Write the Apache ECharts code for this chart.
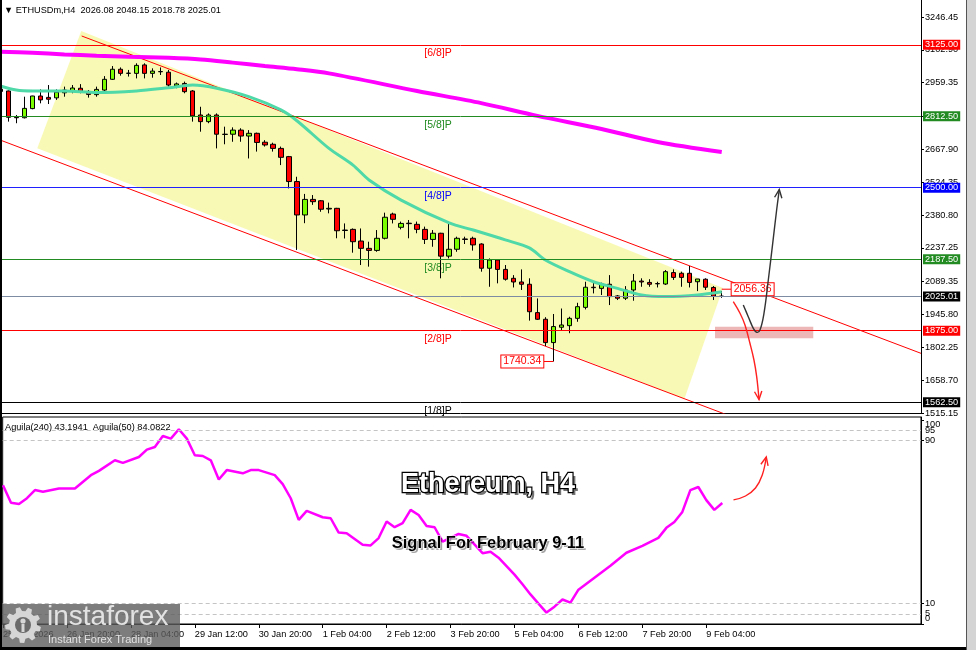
<!DOCTYPE html>
<html>
<head>
<meta charset="utf-8">
<script src="https://cdn.jsdelivr.net/npm/echarts@6/dist/echarts.min.js"></script>
<style>
  html, body { margin: 0; padding: 0; background: #ffffff; }
  #chart { width: 976px; height: 650px; }
</style>
</head>
<body>
<div id="chart"></div>
<script>
const FONT = '"Liberation Sans", Arial, sans-serif';

// ETHUSDm H4 bars; bar 0 = 25 Jan 2026 12:00, bar 90 = 9 Feb 12:00
const candleOpen = [2931,2923,2808,2806,2846,2901,2895,2893,2915,2924,
  2935,2921,2907,2927,2974,3018,3000,3000,3037,3000,
  3008,3005,2945,2956,2923,2818,2789,2818,2734,2734,
  2752,2726,2738,2699,2690,2672,2636,2527,2381,2449,
  2443,2407,2410,2313,2318,2267,2235,2226,2279,2385,
  2327,2345,2340,2318,2274,2301,2201,2231,2276,2279,
  2254,2148,2184,2143,2104,2088,2078,1954,1925,1823,
  1890,1897,1929,1977,2065,2060,2078,2027,2017,2053,
  2092,2086,2081,2079,2129,2126,2126,2089,2100,2064,
  2026.08];
const candleHigh = [2936,2925,2818,2898,2902,2930,2949,2930,2942,2949,
  2953,2927,2942,2988,3032,3026,3015,3044,3044,3022,
  3026,3015,2960,2964,2927,2854,2825,2825,2767,2764,
  2760,2752,2741,2708,2697,2680,2639,2548,2473,2468,
  2446,2435,2412,2344,2322,2322,2264,2315,2391,2391,
  2352,2359,2352,2330,2315,2303,2344,2286,2286,2286,
  2257,2191,2187,2162,2118,2143,2104,2016,1934,1948,
  1972,1936,1997,2089,2089,2085,2118,2031,2070,2123,
  2104,2100,2089,2140,2143,2133,2158,2101,2104,2070,
  2048.15];
const candleLow = [2916,2789,2782,2803,2843,2869,2866,2884,2898,2913,
  2913,2894,2898,2913,2971,2990,2986,2978,2978,2981,
  2993,2942,2935,2913,2789,2745,2782,2672,2690,2701,
  2701,2628,2658,2680,2658,2599,2497,2228,2345,2425,
  2395,2388,2279,2278,2216,2162,2155,2220,2274,2344,
  2318,2279,2301,2254,2242,2104,2191,2220,2254,2225,
  2133,2067,2082,2094,2064,2053,1919,1922,1808,1740.34,
  1878,1864,1914,1968,2038,2031,1987,2009,2009,2006,
  2067,2067,2064,2075,2097,2067,2064,2048,2053,2009,
  2018.78];
const candleClose = [2921,2808,2806,2847,2901,2884,2887,2918,2927,2936,
  2918,2908,2930,2974,3018,3000,3001,3035,3000,3010,
  3007,2949,2954,2920,2814,2789,2818,2734,2733,2752,
  2726,2738,2698,2687,2672,2633,2527,2381,2449,2439,
  2406,2410,2312,2315,2264,2235,2226,2279,2371,2362,
  2344,2343,2318,2274,2301,2201,2231,2279,2274,2250,
  2148,2184,2143,2100,2088,2078,1958,1925,1823,1893,
  1900,1929,1980,2065,2063,2078,2024,2017,2053,2092,
  2088,2078,2080,2133,2108,2108,2086,2101,2065,2026,
  2025.01];

// moving averages (bar, price)
const maSlowBars   = [0,4,8,12,16,21,25,29,33,37,41,52,60,67,75,82,90];
const maSlowValues = [3095,3090,3083,3077,3073,3068,3061,3047,3032,3018,3000,2923,2870,2814,2757,2700,2656];
const maFastBars   = [0,2,4,8,12,17,21,24,27,31,35,37,41,44,46,50,56,59,63,66,68,71,74,77,80,83,87,90];
const maFastValues = [2945,2927,2923,2923,2916,2923,2937,2949,2935,2898,2840,2793,2672,2599,2534,2446,2346,2315,2272,2237,2184,2133,2089,2060,2031,2024,2031,2045];

// Aguila oscillator (bar, value)
const aguilaBars   = [0,1,2,3,4,5,7,9,11,12,14,15,17,18,19,20,21,22,23,24,25,26,27,28,30,31,32,34,35,36,37,38,40,41,42,43,45,46,47,48,49,50,51,52,53,54,55,57,58,60,61,62,64,65,66,67,68,69,70,71,72,74,76,78,80,82,83,84,85,86,87,88,89,90];
const aguilaValues = [68.0,59.4,58.8,61.6,65.6,64.8,66.4,66.4,72.9,75.0,80.2,78.9,81.8,85.4,86.7,92.1,90.8,95.4,90.8,82.7,82.3,80.2,70.8,75.4,73.8,75.4,75.4,72.9,68.5,61.6,51.0,55.4,52.3,51.8,44.8,44.5,38.8,38.5,42.1,50.2,47.4,49.4,55.9,53.4,48.0,47.4,40.4,44.1,43.2,34.7,35.4,32.5,24.2,19.5,14.5,10.0,5.6,8.5,12.0,10.5,16.8,22.7,28.5,34.9,38.3,42.2,47.1,50.0,54.9,65.6,67.1,60.7,55.9,59.3];

// time axis ticks
const timeTickBars   = [0,8,16,24,32,40,48,56,64,72,80,88];
const timeTickLabels = ['25 Jan 2026','26 Jan 20:00','28 Jan 04:00','29 Jan 12:00','30 Jan 20:00',
  '1 Feb 04:00','2 Feb 12:00','3 Feb 20:00','5 Feb 04:00','6 Feb 12:00','7 Feb 20:00','9 Feb 04:00'];

// price axis ticks
const priceTicks = [1515.15,1658.70,1802.25,1945.80,2089.35,2237.25,2380.80,2524.35,2667.90,2813.80,2959.35,3102.90,3246.45];
// oscillator scale: outer marks and the inner pair sit on two overlaid axes
const aguilaTicksOuter = [0,10,90,100];
const aguilaTicksInner = [5,95];
const aguilaGuides = [95,90,10,5];

// horizontal levels
const levelPrices    = [3125.00, 2812.50, 2500.00, 2187.50, 2025.01, 1875.00, 1562.50];
const levelLineColor = ['#ff0000','#228b22','#2020ff','#228b22','#7d8ca3','#ff0000','#000000'];
const levelBoxColor  = ['#ff0000','#228b22','#0000ff','#228b22','#000000','#ff0000','#000000'];

// Murrey octave captions
const octavePrices = [3125.00, 2812.50, 2500.00, 2187.50, 1875.00, 1562.50];
const octaveNames  = ['[6/8]P','[5/8]P','[4/8]P','[3/8]P','[2/8]P','[1/8]P'];
const octaveColors = ['#ff0000','#228b22','#0000ff','#228b22','#ff0000','#000000'];
const octaveBar = 52.9;

// regression channel: shaded area and the two rails
const channelBars   = [10.1, 4.61, 85.35, 90.16];
const channelPrices = [3185.2, 2672.4, 1577.2, 2061.6];
const upperRail = [[10.15, 3163.4], [114.86, 1776.0]];
const lowerRail = [[-0.04, 2708.8], [114.86, 1186.4]];

// price tags: [bar, price, bar where the tag box sits]
const tagBars   = [90, 69];
const tagPrices = [2056.36, 1740.34];
const tagBoxAt  = [91.24, 67.74];

// support zone
const zoneBars   = [89.16, 101.42];
const zonePrices = [1892.4, 1841.7];

// scenario arrows (bar, price) / (bar, oscillator)
const arrowUpPath   = [[92.69,1987.3],[93.31,1936.2],[93.94,1885.4],[94.36,1868.0],[94.77,1878.0],[95.27,1951.0],[95.81,2096.6],[96.36,2257.0],[96.85,2402.7],[97.18,2492.0]];
const arrowDownPath = [[91.44,2001.7],[92.28,1951.0],[92.90,1899.9],[93.52,1819.9],[94.02,1746.9],[94.36,1673.9],[94.65,1574.0]];
const aguilaArrowPath = [[91.4,60.8],[92.9,62.7],[94.15,66.6],[95.0,73.0],[95.5,81.8]];

const X_MIN = -0.04, X_MAX = 114.86;
const OSC_MIN = 0, OSC_MAX = 101.4;

const candleData = candleOpen.map((o, i) => [i, o, candleClose[i], candleLow[i], candleHigh[i]]);
const zip = (xs, ys) => xs.map((x, i) => [x, ys[i]]);

function arrowSeries(path, color, gi) {
  return {
    type: 'custom', xAxisIndex: gi, yAxisIndex: gi, z: 6, silent: true,
    data: [path[0]],
    renderItem: function (params, api) {
      const pts = path.map(p => api.coord(p));
      const a = pts[pts.length - 2], b = pts[pts.length - 1];
      const ang = Math.atan2(b[1] - a[1], b[0] - a[0]);
      const L = 9, spread = 0.42;
      const h1 = [b[0] - L * Math.cos(ang - spread), b[1] - L * Math.sin(ang - spread)];
      const h2 = [b[0] - L * Math.cos(ang + spread), b[1] - L * Math.sin(ang + spread)];
      return {
        type: 'group',
        children: [
          { type: 'polyline', shape: { points: pts, smooth: 0.4 }, style: { stroke: color, lineWidth: 1.4, fill: null } },
          { type: 'polyline', shape: { points: [h1, b, h2] }, style: { stroke: color, lineWidth: 1.4, fill: null } }
        ]
      };
    }
  };
}

function gearPoints(cx, cy, rOut, rIn, teeth) {
  const pts = [];
  const step = Math.PI * 2 / teeth;
  for (let k = 0; k < teeth; k++) {
    const a0 = k * step;
    pts.push([cx + rIn * Math.cos(a0), cy + rIn * Math.sin(a0)]);
    pts.push([cx + rOut * Math.cos(a0 + step * 0.15), cy + rOut * Math.sin(a0 + step * 0.15)]);
    pts.push([cx + rOut * Math.cos(a0 + step * 0.5), cy + rOut * Math.sin(a0 + step * 0.5)]);
    pts.push([cx + rIn * Math.cos(a0 + step * 0.65), cy + rIn * Math.sin(a0 + step * 0.65)]);
  }
  return pts;
}

const axisText = { fontFamily: FONT, fontSize: 9.2, color: '#000' };

const option = {
  animation: false,
  backgroundColor: '#ffffff',
  textStyle: { fontFamily: FONT },
  grid: [
    { left: 0, top: 0, width: 921, height: 413, show: false },
    { left: 0, top: 417, width: 921, height: 207, show: true, borderColor: '#000', borderWidth: 1, backgroundColor: 'transparent' }
  ],
  xAxis: [
    { type: 'value', gridIndex: 0, min: X_MIN, max: X_MAX, position: 'bottom',
      axisLine: { show: true, onZero: false, lineStyle: { color: '#000', width: 1 } },
      axisTick: { show: false }, axisLabel: { show: false }, splitLine: { show: false } },
    { type: 'value', gridIndex: 1, min: X_MIN, max: X_MAX, position: 'bottom',
      axisLine: { show: true, onZero: false, lineStyle: { color: '#000', width: 1 } },
      axisTick: { show: true, customValues: timeTickBars, length: 4, lineStyle: { color: '#000' } },
      axisLabel: Object.assign({ show: true, customValues: timeTickBars, align: 'left', margin: 6,
        hideOverlap: false, showMinLabel: true, showMaxLabel: true,
        formatter: v => timeTickLabels[timeTickBars.indexOf(Math.round(v))] || '' }, axisText),
      splitLine: { show: false } }
  ],
  yAxis: [
    { type: 'value', gridIndex: 0, position: 'right', min: 1515.15, max: 3320.77,
      axisLine: { show: true, onZero: false, lineStyle: { color: '#000', width: 1 } },
      axisTick: { show: true, customValues: priceTicks, length: 3, lineStyle: { color: '#000' } },
      axisLabel: Object.assign({ show: true, customValues: priceTicks, margin: 4,
        hideOverlap: false, showMinLabel: true, showMaxLabel: true,
        formatter: v => v.toFixed(2) }, axisText),
      splitLine: { show: false } },
    { type: 'value', gridIndex: 1, position: 'right', min: OSC_MIN, max: OSC_MAX,
      axisLine: { show: true, onZero: false, lineStyle: { color: '#000', width: 1 } },
      axisTick: { show: true, customValues: aguilaTicksOuter, length: 3, lineStyle: { color: '#000' } },
      axisLabel: Object.assign({ show: true, customValues: aguilaTicksOuter, margin: 4,
        hideOverlap: false, showMinLabel: true, showMaxLabel: true,
        formatter: v => v === 100 ? '{t|100}' : (v === 0 ? '{b|0}' : String(v)),
        rich: {
          t: Object.assign({ padding: [10, 0, 0, 0] }, axisText),
          b: Object.assign({ padding: [0, 0, 12, 0] }, axisText)
        } }, axisText),
      splitLine: { show: false } },
    { type: 'value', gridIndex: 1, position: 'right', offset: 0, min: OSC_MIN, max: OSC_MAX,
      axisLine: { show: false },
      axisTick: { show: true, customValues: aguilaTicksInner, length: 3, lineStyle: { color: '#000' } },
      axisLabel: Object.assign({ show: true, customValues: aguilaTicksInner, margin: 4,
        hideOverlap: false, showMinLabel: true, showMaxLabel: true,
        formatter: v => String(v) }, axisText),
      splitLine: { show: false } }
  ],
  series: [
    // shaded channel body
    {
      type: 'custom', xAxisIndex: 0, yAxisIndex: 0, z: 1, silent: true,
      data: [[channelBars[0], channelPrices[0]]],
      renderItem: function (params, api) {
        const pts = channelBars.map((b, i) => api.coord([b, channelPrices[i]]));
        return { type: 'polygon', shape: { points: pts }, style: { fill: '#f9f9b6' } };
      }
    },
    // upper rail, carrying the horizontal levels
    {
      type: 'line', xAxisIndex: 0, yAxisIndex: 0, z: 2, silent: true,
      data: upperRail, symbol: 'none', lineStyle: { color: '#ff0000', width: 1 },
      markLine: {
        silent: true, symbol: ['none', 'none'], animation: false,
        data: levelPrices.map((p, i) => ({
          yAxis: p,
          lineStyle: { color: levelLineColor[i], width: 1, type: 'solid' },
          label: { show: true, position: 'end', distance: 2, formatter: p.toFixed(2),
            color: '#fff', backgroundColor: levelBoxColor[i], padding: [1, 2, 0, 2],
            fontFamily: FONT, fontSize: 9.2 }
        }))
      }
    },
    {
      type: 'line', xAxisIndex: 0, yAxisIndex: 0, z: 2, silent: true,
      data: lowerRail, symbol: 'none', lineStyle: { color: '#ff0000', width: 1 }
    },
    // support zone
    {
      type: 'custom', xAxisIndex: 0, yAxisIndex: 0, z: 2, silent: true,
      data: [[zoneBars[0], zonePrices[0]]],
      renderItem: function (params, api) {
        const a = api.coord([zoneBars[0], zonePrices[0]]);
        const b = api.coord([zoneBars[1], zonePrices[1]]);
        return { type: 'rect', shape: { x: a[0], y: a[1], width: b[0] - a[0], height: b[1] - a[1] },
          style: { fill: 'rgba(214,96,96,0.45)' } };
      }
    },
    // octave captions
    {
      type: 'custom', xAxisIndex: 0, yAxisIndex: 0, z: 3, silent: true,
      data: octavePrices.map(p => [octaveBar, p]),
      renderItem: function (params, api) {
        const c = api.coord([api.value(0), api.value(1)]);
        return { type: 'text', style: { text: octaveNames[params.dataIndex], x: c[0], y: c[1] + 3,
          fill: octaveColors[params.dataIndex], font: '10.5px ' + FONT, align: 'left', verticalAlign: 'top' } };
      }
    },
    // candles
    {
      type: 'candlestick', xAxisIndex: 0, yAxisIndex: 0, z: 3,
      dimensions: ['bar', 'open', 'close', 'low', 'high'],
      encode: { x: 'bar', y: ['open', 'close', 'low', 'high'] },
      data: candleData, barWidth: 5,
      itemStyle: { color: '#7cfc00', color0: '#ff0000', borderColor: '#000', borderColor0: '#000', borderWidth: 1 }
    },
    // slow MA
    {
      type: 'line', xAxisIndex: 0, yAxisIndex: 0, z: 4, silent: true,
      data: zip(maSlowBars, maSlowValues), symbol: 'none', smooth: 0.3,
      lineStyle: { color: '#ff00ff', width: 4 }
    },
    // fast MA
    {
      type: 'line', xAxisIndex: 0, yAxisIndex: 0, z: 4, silent: true,
      data: zip(maFastBars, maFastValues), symbol: 'none', smooth: 0.3,
      lineStyle: { color: '#4fd8a8', width: 3 }
    },
    // price tags
    {
      type: 'custom', xAxisIndex: 0, yAxisIndex: 0, z: 5, silent: true,
      data: tagBars.map((b, i) => [b, tagPrices[i]]),
      renderItem: function (params, api) {
        const i = params.dataIndex;
        const p0 = api.coord([tagBars[i], tagPrices[i]]);
        const p1 = api.coord([tagBoxAt[i], tagPrices[i]]);
        const right = tagBoxAt[i] > tagBars[i];
        return {
          type: 'group',
          children: [
            { type: 'line', shape: { x1: p0[0], y1: p0[1], x2: p1[0], y2: p1[1] }, style: { stroke: '#ff0000', lineWidth: 1 } },
            { type: 'text', style: { text: tagPrices[i].toFixed(2), x: p1[0], y: p1[1],
              align: right ? 'left' : 'right', verticalAlign: 'middle', fill: '#ff0000',
              font: '10.5px ' + FONT, backgroundColor: '#ffffff', borderColor: '#ff0000', borderWidth: 1,
              padding: [1, 2, 0, 2] } }
          ]
        };
      }
    },
    arrowSeries(arrowUpPath, '#333333', 0),
    arrowSeries(arrowDownPath, '#ff2020', 0),
    // oscillator
    {
      type: 'line', xAxisIndex: 1, yAxisIndex: 1, z: 3, silent: true,
      data: zip(aguilaBars, aguilaValues), symbol: 'none',
      lineStyle: { color: '#ff00ff', width: 2.5 },
      markLine: {
        silent: true, symbol: ['none', 'none'], animation: false, label: { show: false },
        lineStyle: { color: '#c4c4c4', type: [4, 3], width: 1 },
        data: aguilaGuides.map(v => ({ yAxis: v }))
      }
    },
    arrowSeries(aguilaArrowPath, '#ff2020', 1)
  ],
  graphic: [
    { type: 'text', z: 50, style: { text: '\u25BC ETHUSDm,H4  2026.08 2048.15 2018.78 2025.01', x: 4, y: 10,
      font: '9.2px ' + FONT, fill: '#000', verticalAlign: 'middle' } },
    { type: 'text', z: 50, style: { text: 'Aguila(240) 43.1941  Aguila(50) 84.0822', x: 5, y: 427,
      font: '9.2px ' + FONT, fill: '#000', verticalAlign: 'middle' } },
    // title block
    { type: 'text', z: 60, style: { text: 'Ethereum, H4', x: 491, y: 488, font: 'bold 27px ' + FONT,
      fill: 'rgba(0,0,0,0.55)', align: 'center', verticalAlign: 'middle' } },
    { type: 'text', z: 61, style: { text: 'Ethereum, H4', x: 488, y: 485, font: 'bold 27px ' + FONT,
      fill: '#ffffff', stroke: '#000000', lineWidth: 2.5, align: 'center', verticalAlign: 'middle' } },
    { type: 'text', z: 60, style: { text: 'Signal For February 9-11', x: 490, y: 545, font: 'bold 16.5px ' + FONT,
      fill: 'rgba(0,0,0,0.35)', align: 'center', verticalAlign: 'middle' } },
    { type: 'text', z: 61, style: { text: 'Signal For February 9-11', x: 488, y: 543, font: 'bold 16.5px ' + FONT,
      fill: '#000000', stroke: '#ffffff', lineWidth: 1, align: 'center', verticalAlign: 'middle' } },
    // brand plate
    { type: 'rect', z: 70, shape: { x: 0, y: 604, width: 180, height: 46 }, style: { fill: 'rgba(92,92,92,0.8)' } },
    { type: 'polygon', z: 71, shape: { points: gearPoints(23, 625, 18, 14, 9) }, style: { fill: '#d6d6d6' } },
    { type: 'circle', z: 72, shape: { cx: 23, cy: 625, r: 8 }, style: { fill: '#6a6a6a' } },
    { type: 'circle', z: 73, shape: { cx: 23, cy: 621, r: 2.6 }, style: { fill: '#d6d6d6' } },
    { type: 'rect', z: 73, shape: { x: 21.5, y: 624, width: 3, height: 8 }, style: { fill: '#d6d6d6' } },
    { type: 'text', z: 72, style: { text: 'instaforex', x: 47, y: 617, font: '28px ' + FONT, fill: '#e2e2e2', verticalAlign: 'middle' } },
    { type: 'text', z: 72, style: { text: 'Instant Forex Trading', x: 48, y: 640, font: '11px ' + FONT, fill: '#e2e2e2', verticalAlign: 'middle' } },
    // window frame
    { type: 'rect', z: 80, shape: { x: 0, y: 0, width: 2, height: 650 }, style: { fill: '#000' } },
    { type: 'rect', z: 80, shape: { x: 0, y: 647, width: 976, height: 3 }, style: { fill: '#000' } },
    { type: 'rect', z: 80, shape: { x: 966, y: 0, width: 1, height: 650 }, style: { fill: '#555' } },
    { type: 'rect', z: 80, shape: { x: 967, y: 0, width: 9, height: 650 }, style: { fill: '#d4d4d4' } }
  ]
};

const chart = echarts.init(document.getElementById('chart'));
chart.setOption(option);
</script>
</body>
</html>
